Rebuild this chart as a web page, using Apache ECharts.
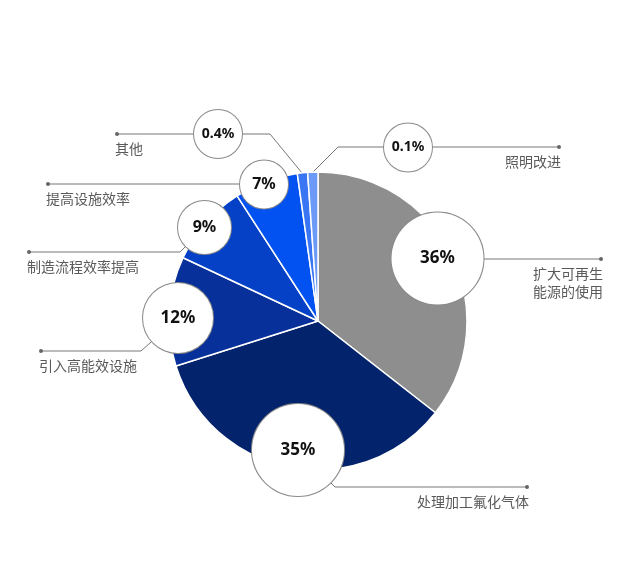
<!DOCTYPE html>
<html>
<head>
<meta charset="utf-8">
<script src="https://cdn.jsdelivr.net/npm/echarts@6/dist/echarts.min.js"></script>
<style>
  html, body { margin: 0; padding: 0; background: #fff; }
  #chart { width: 624px; height: 576px; }
</style>
</head>
<body>
<div id="chart"></div>
<script>
// ---- data ----
const categories = ['扩大可再生\n能源的使用', '处理加工氟化气体', '引入高能效设施', '制造流程效率提高', '提高设施效率', '其他', '照明改进'];
const shares = [36, 35, 12, 9, 7, 0.4, 0.1];

// ---- styles / layout (not data) ----
const sliceColors = ['#8e8e8e', '#03236c', '#07309a', '#0541c6', '#0252f2', '#3a76f4', '#6b9bf7'];
const bubbleX = [437.5, 298, 178, 204.5, 264, 218, 408];
const bubbleY = [258.5, 450, 318, 227.5, 184.5, 134, 147.5];
const bubbleR = [46, 46, 35, 26.5, 24, 24, 24];
const bubbleFont = [17, 17, 17, 16, 16, 14, 14];
const dotX = [601, 527, 41, 29, 48, 117, 559];
const dotY = [259, 487, 351, 252, 184, 134, 147];
const nameAlign = ['right', 'right', 'left', 'left', 'left', 'left', 'right'];
const bendX = [520, 335, 141, 180, 150, 270, 338];
const bendY = [259, 487, 351, 252, 184, 134, 147];
const startPt = [[437, 259], [298, 450], [178, 318], [204, 228], [264, 184], [302, 173], [313, 172]];

const chart = echarts.init(document.getElementById('chart'), null, { renderer: 'canvas' });

const nameData = categories.map((c, i) => ({
  name: c,
  value: shares[i],
  itemStyle: { color: sliceColors[i] },
  label: {
    align: nameAlign[i],
    rich: {
      d: { width: 4, height: 4, borderRadius: 2, backgroundColor: '#666', lineHeight: 12, align: nameAlign[i], fontSize: 2 },
      n: { fontSize: 14, lineHeight: 18, color: '#5a5a5a', fontFamily: 'Noto Sans CJK SC', align: nameAlign[i] }
    }
  }
}));

const bubbleData = categories.map((c, i) => ({
  name: c,
  value: shares[i],
  label: {
    width: bubbleR[i] * 2,
    height: bubbleR[i] * 2,
    lineHeight: bubbleR[i] * 2,
    borderRadius: bubbleR[i],
    fontSize: bubbleFont[i]
  }
}));

chart.setOption({
  animation: false,
  backgroundColor: '#ffffff',
  series: [
    {
      type: 'pie',
      center: [318, 321],
      radius: 149,
      startAngle: 90,
      clockwise: true,
      minAngle: 4,
      avoidLabelOverlap: false,
      silent: true,
      z: 2,
      itemStyle: { borderColor: '#ffffff', borderWidth: 1.5 },
      label: {
        show: true,
        position: 'outside',
        formatter: (p) => '{d| }\n{n|' + p.name + '}'
      },
      labelLine: { show: true, smooth: false, lineStyle: { color: '#777', width: 1 } },
      labelLayout: (p) => {
        const i = p.dataIndex;
        return {
          x: nameAlign[i] === 'right' ? dotX[i] + 2 : dotX[i] - 2,
          y: dotY[i] - 6,
          align: nameAlign[i],
          verticalAlign: 'top',
          labelLinePoints: [startPt[i], [bendX[i], bendY[i]], [dotX[i], dotY[i]]]
        };
      },
      data: nameData
    },
    {
      type: 'pie',
      center: [318, 321],
      radius: 149,
      startAngle: 90,
      clockwise: true,
      minAngle: 4,
      avoidLabelOverlap: false,
      silent: true,
      z: 5,
      itemStyle: { color: 'rgba(0,0,0,0)', borderWidth: 0 },
      label: {
        show: true,
        position: 'outside',
        formatter: (p) => p.value + '%',
        backgroundColor: '#ffffff',
        borderColor: '#8a8a8a',
        borderWidth: 1,
        padding: 0,
        align: 'center',
        verticalAlign: 'middle',
        color: '#111',
        fontWeight: 'bold',
        fontFamily: 'Noto Sans'
      },
      labelLine: { show: false },
      labelLayout: (p) => {
        const i = p.dataIndex;
        return { x: bubbleX[i], y: bubbleY[i], align: 'center', verticalAlign: 'middle' };
      },
      data: bubbleData
    }
  ]
});
</script>
</body>
</html>
